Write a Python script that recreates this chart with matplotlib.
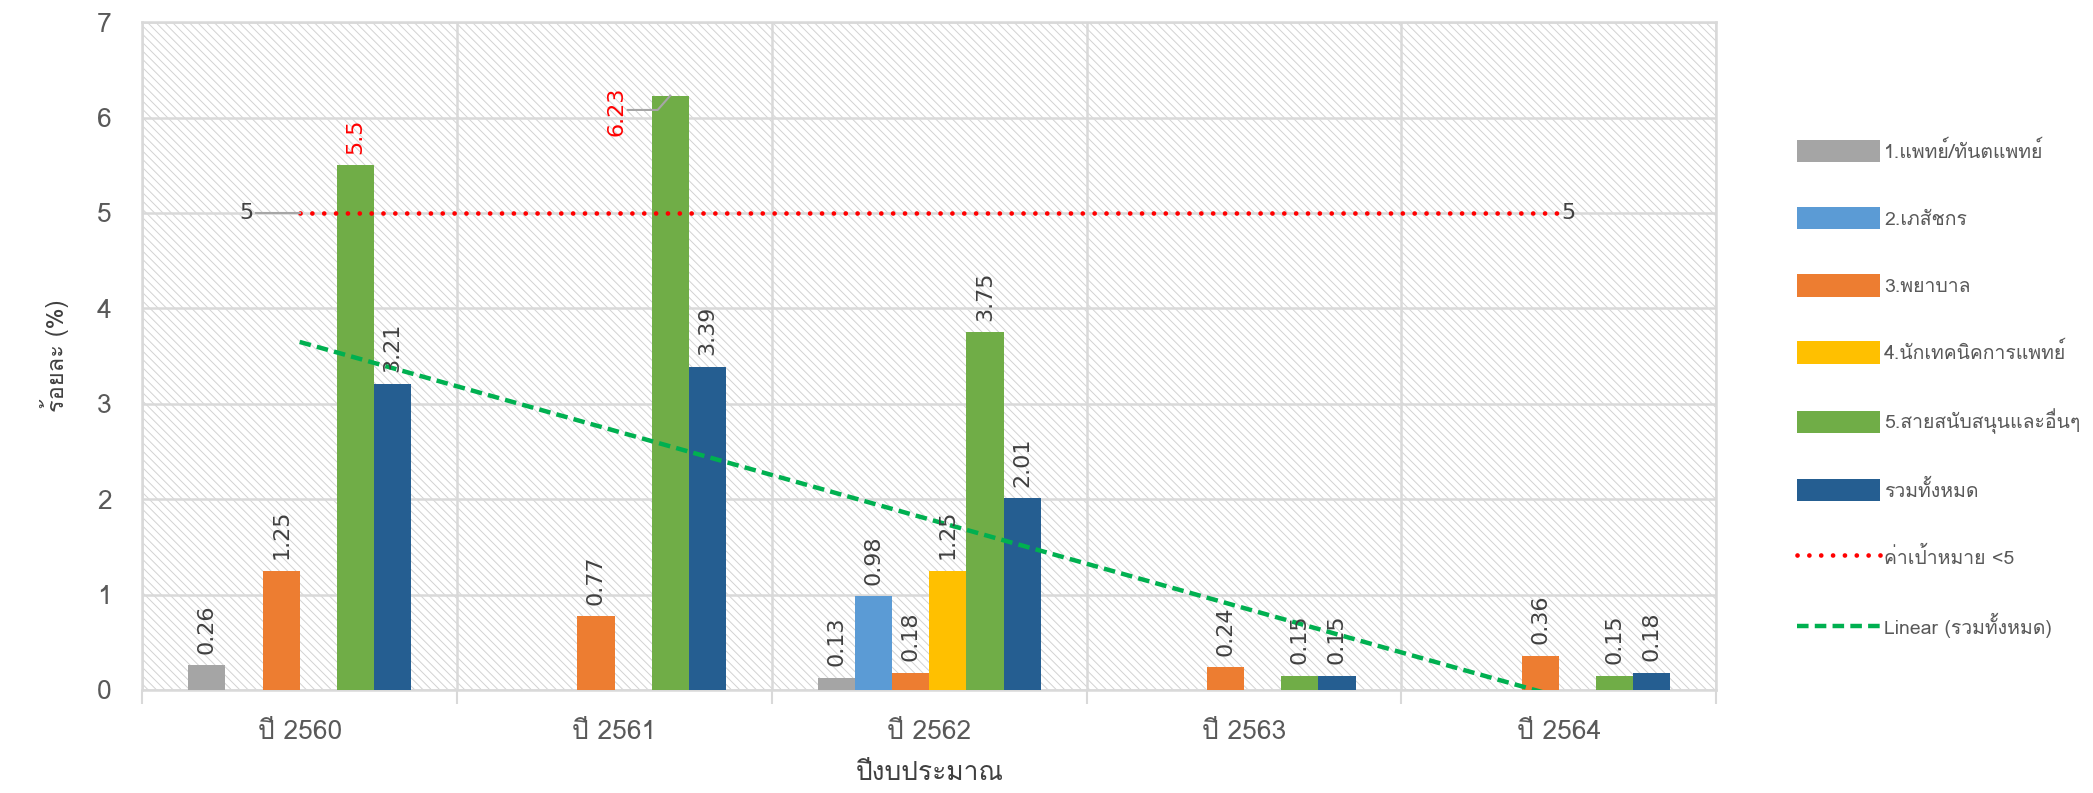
import numpy as np
import matplotlib
matplotlib.use("Agg")
import matplotlib.pyplot as plt
from matplotlib import font_manager
from matplotlib.ft2font import FT2Font
from matplotlib.patches import Rectangle

# find some installed font with Thai glyphs
def find_thai():
    for f in font_manager.fontManager.ttflist:
        try:
            ft = FT2Font(f.fname)
            if ft.get_char_index(ord('ก')):
                return f.name
        except Exception:
            pass
    return None

thai = find_thai()
fams = ['DejaVu Sans']
if thai:
    fams = [thai, 'DejaVu Sans']
plt.rcParams['font.family'] = fams
plt.rcParams['hatch.color'] = '#d2d2d2'
plt.rcParams['hatch.linewidth'] = 0.7

years = ['ปี 2560', 'ปี 2561', 'ปี 2562', 'ปี 2563', 'ปี 2564']
series_names = ['1.แพทย์/ทันตแพทย์', '2.เภสัชกร', '3.พยาบาล',
                '4.นักเทคนิคการแพทย์', '5.สายสนับสนุนและอื่นๆ', 'รวมทั้งหมด']
doctor = [0.26, None, 0.13, None, None]
pharm = [None, None, 0.98, None, None]
nurse = [1.25, 0.77, 0.18, 0.24, 0.36]
medtech = [None, None, 1.25, None, None]
support = [5.5, 6.23, 3.75, 0.15, 0.15]
total = [3.21, 3.39, 2.01, 0.15, 0.18]
target = [5, 5, 5, 5, 5]
colors = ['#A5A5A5', '#5B9BD5', '#ED7D31', '#FFC000', '#70AD47', '#255E91']

all_series = [doctor, pharm, nurse, medtech, support, total]

fig = plt.figure(figsize=(20.93, 7.93), dpi=100)
ax = fig.add_axes([0.068, 0.13, 0.752, 0.842])

x = np.arange(len(years))
w = 0.118

# hatched background
bg = Rectangle((0, 0), 1, 1, transform=ax.transAxes, facecolor='white',
               edgecolor='#d2d2d2', hatch='\\\\\\\\', linewidth=0, zorder=0)
ax.add_patch(bg)

txtcol = '#404040'
for i, (vals, name, c) in enumerate(zip(all_series, series_names, colors)):
    v = np.array([np.nan if a is None else a for a in vals], dtype=float)
    pos = x + (i - 2.5) * w
    ax.bar(pos, v, width=w, color=c, label=name, zorder=3)
    for px, val in zip(pos, vals):
        if val is None:
            continue
        if val == 6.23:
            # label pushed to the left with a leader line
            ax.text(px - 0.17, val - 0.16, '6.23', rotation=90, ha='center',
                    va='center', color='red', fontsize=16, family='DejaVu Sans', zorder=5)
            ax.plot([px - 0.135, px - 0.04, px], [val - 0.15, val - 0.15, val],
                    color='#a6a6a6', lw=1.5, zorder=5)
            continue
        col = 'red' if val == 5.5 else txtcol
        ax.text(px, val + 0.12, f'{val:g}', rotation=90, ha='center', va='bottom',
                color=col, fontsize=16, family='DejaVu Sans', zorder=5)

# target line
ax.plot(x, target, linestyle=(0, (0.01, 2.5)), color='#FF0000', lw=3.4,
        dash_capstyle='round', label='ค่าเป้าหมาย <5', zorder=4)
ax.text(-0.17, 5, '5', ha='center', va='center', fontsize=16, color=txtcol,
        family='DejaVu Sans', zorder=5)
ax.plot([-0.14, 0], [5, 5], color='#a6a6a6', lw=1.5, zorder=4)
ax.text(4.03, 5, '5', ha='center', va='center', fontsize=16, color=txtcol,
        family='DejaVu Sans', zorder=5)

# linear trend of total
k, b = np.polyfit(x, total, 1)
ax.plot(x, k * x + b, linestyle=(0, (2.6, 1.4)), color='#00B050', lw=3.2,
        label='Linear (รวมทั้งหมด)', zorder=4)

ax.set_xlim(-0.5, 4.5)
ax.set_ylim(0, 7)
ax.set_yticks(range(0, 8))
ax.set_xticks(x)
ax.set_xticklabels(years)
ax.set_xticks(np.arange(-0.5, 5, 1), minor=True)
ax.tick_params(axis='x', which='major', length=0, pad=22, labelsize=19, labelcolor='#595959')
ax.tick_params(axis='x', which='minor', length=10, color='#d9d9d9', width=1.5)
ax.tick_params(axis='y', length=0, pad=22, labelsize=19, labelcolor='#595959')
ax.grid(True, which='major', axis='y', color='#d9d9d9', lw=1.8, zorder=1)
ax.grid(True, which='minor', axis='x', color='#d9d9d9', lw=1.8, zorder=1)
ax.set_axisbelow(True)
for s in ax.spines.values():
    s.set_color('#d9d9d9')
    s.set_linewidth(1.8)

ax.set_xlabel('ปีงบประมาณ', fontsize=19, color='#404040', labelpad=12)
ax.set_ylabel('ร้อยละ (%)', fontsize=17, color='#404040', labelpad=20)

h, l = ax.get_legend_handles_labels()
order = [2, 3, 4, 5, 6, 7, 0, 1]
leg = ax.legend([h[j] for j in order], [l[j] for j in order],
                loc='upper left', bbox_to_anchor=(1.04, 0.85), frameon=False,
                fontsize=14, labelspacing=2.3, handlelength=4.3, handleheight=1.4,
                handletextpad=0.2, labelcolor='#595959')

fig.savefig('out.png', dpi=100)
